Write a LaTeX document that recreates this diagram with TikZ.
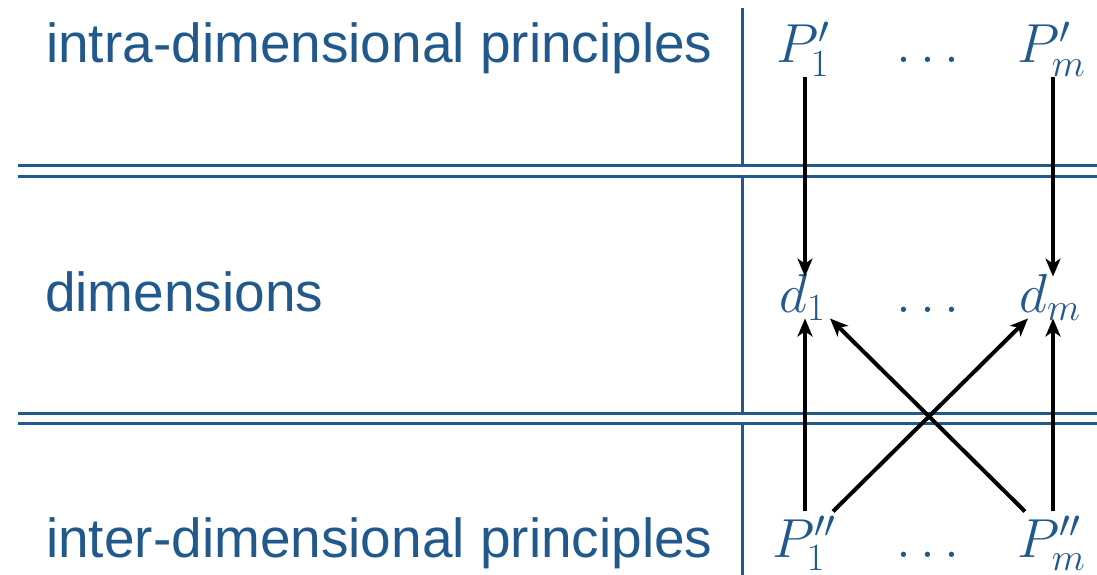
\documentclass[tikz,border=0pt]{standalone}
\usepackage{fix-cm}
\usepackage{fontspec}
\setmainfont{Liberation Sans}
\usetikzlibrary{arrows.meta,calc}
\definecolor{tblue}{RGB}{33,89,140}
\begin{document}
\begin{tikzpicture}[x=1pt,y=-1pt,
  rule/.style={draw=tblue,line width=3pt},
  lbl/.style={inner sep=0pt,anchor=base west,text=tblue,font=\fontsize{55}{66}\selectfont},
  mth/.style={inner sep=0pt,anchor=base west,text=tblue,font=\fontsize{55}{66}\selectfont},
  arr/.style={line width=4pt,draw=black,-{Stealth[length=18pt,width=15pt,inset=5pt]}}]
\useasboundingbox (0,0) rectangle (1097,575);
% rules
\draw[rule] (18,165) -- (1097,165);
\draw[rule] (18,176) -- (1097,176);
\draw[rule] (18,413.5) -- (1097,413.5);
\draw[rule] (18,423.5) -- (1097,423.5);
\draw[rule] (742.5,8) -- (742.5,165);
\draw[rule] (742.5,176) -- (742.5,413.5);
\draw[rule] (742.5,423.5) -- (742.5,575);
% labels
\node[lbl] (l1) at (46,63) {intra-dimensional principles};
\node[lbl] (l2) at (45,311) {dimensions};
\node[lbl] (l3) at (46,557) {inter-dimensional principles};
% math
\node[mth] (p1) at (776,63) {$P'_1$};
\node[mth,anchor=base] (pd) at (928,63) {$\ldots$};
\node[mth] (pm) at (1017,63) {$P'_m$};
\node[mth] (d1) at (779,312) {$d_1$};
\node[mth,anchor=base] (dd) at (928,312) {$\ldots$};
\node[mth] (dm) at (1019,312) {$d_m$};
\node[mth] (q1) at (772,557) {$P''_1$};
\node[mth,anchor=base] (qd) at (928,557) {$\ldots$};
\node[mth] (qm) at (1017,557) {$P''_m$};
% connectors
\draw[arr] ([xshift=29pt]p1.south west) -- ([xshift=26pt,yshift=-3pt]d1.north west);
\draw[arr] ([xshift=36pt]pm.south west) -- ([xshift=34pt,yshift=-3pt]dm.north west);
\draw[arr] ([xshift=33pt,yshift=4pt]q1.north west) -- ([xshift=26pt,yshift=2pt]d1.south west);
\draw[arr] ([xshift=36pt,yshift=4pt]qm.north west) -- ([xshift=34pt,yshift=2pt]dm.south west);
\draw[arr] ([xshift=61pt,yshift=4pt]q1.north west) -- ([xshift=9pt,yshift=2pt]dm.south west);
\draw[arr] ([xshift=8pt,yshift=4pt]qm.north west) -- ([xshift=51pt,yshift=2pt]d1.south west);
\end{tikzpicture}
\end{document}
